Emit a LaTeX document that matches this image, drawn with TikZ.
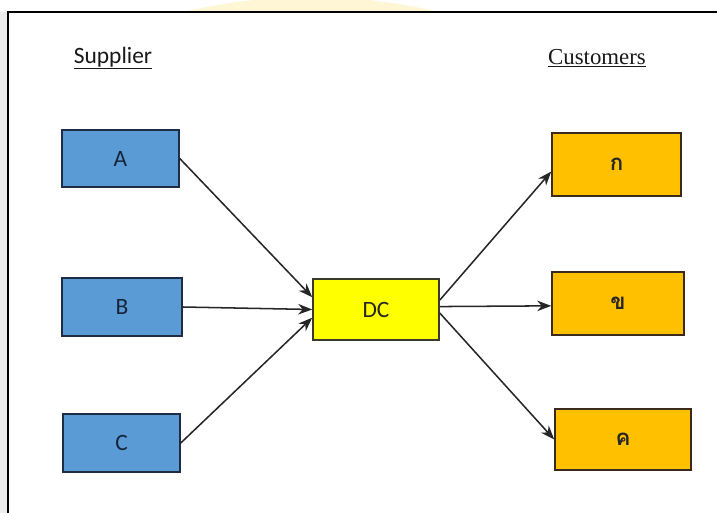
\documentclass[tikz,border=0pt]{standalone}
\usepackage{fontspec}
\usepackage{xcolor}
\usetikzlibrary{arrows.meta}
\newfontfamily\calibri{Carlito}
\newfontfamily\serifhead{Liberation Serif}
\newfontfamily\thaifont[Script=Thai]{Loma}
\definecolor{supblue}{HTML}{5B9BD5}
\definecolor{supedge}{HTML}{1E2D44}
\definecolor{suptext}{HTML}{16243A}
\definecolor{dcyellow}{HTML}{FFFF00}
\definecolor{dcedge}{HTML}{3A3A2A}
\definecolor{cusorange}{HTML}{FFC000}
\definecolor{cusedge}{HTML}{3B2A1C}
\definecolor{flowgray}{HTML}{262626}
\definecolor{wmyellow}{HTML}{FFF6D6}
\definecolor{stripgray}{HTML}{ECEDEC}
\tikzset{
  box/.style={draw,line width=1.3pt,inner sep=0pt,font=\calibri\fontsize{20}{24}\selectfont},
  % supplier / dc / customer boxes
  supbox/.style={box,fill=supblue,draw=supedge,text=suptext},
  dcbox/.style={box,fill=dcyellow,draw=dcedge,text=black!85},
  cusbox/.style={box,fill=cusorange,draw=cusedge,text=black!85,font=\thaifont\bfseries\fontsize{19}{22}\selectfont},
  % flow arrows
  flow/.style={line width=1.3pt,draw=flowgray,-{Stealth[length=12pt,width=9pt]}},
  head/.style={inner sep=0pt,text=black!90},
}

\begin{document}
\begin{tikzpicture}[x=0.03cm,y=-0.03cm]
\useasboundingbox (0,0) rectangle (717,513);

%% page background (watermark + frame)
\begin{scope}
  \clip (0,0) rectangle (717,513);
  \fill[wmyellow] (311,538) circle[radius=541];
  \fill[stripgray] (0,12) rectangle (8,513);
\end{scope}
\fill[white] (8,12) rectangle (717,513);
\draw[line width=1.6pt] (8,513) -- (8,12) -- (717,12);

%% column heads
\node[head,font=\calibri\fontsize{20}{24}\selectfont] (suphead) at (113,58) {\underline{Supplier}};
\node[head,font=\serifhead\fontsize{19.5}{24}\selectfont] (cushead) at (597,58) {\underline{Customers}};

%% suppliers
\foreach \name/\x/\y/\w/\h in {A/120.5/158.5/117/57, B/122/307/120/58, C/121.5/443/117/58}{
  \node[supbox,minimum width=\w*0.03cm,minimum height=\h*0.03cm] (\name) at (\x,\y) {\name};
}

%% distribution centre
\node[dcbox,minimum width=126*0.03cm,minimum height=61*0.03cm] (DC) at (376,309.5) {DC};

%% customers
\foreach \name/\x/\y/\w/\h/\lbl in {kokai/616.5/164.5/129/63/ก, khokhai/618/303.5/132/63/ข, khokhwai/623/439.5/136/61/ค}{
  \node[cusbox,minimum width=\w*0.03cm,minimum height=\h*0.03cm] (\name) at (\x,\y) {\lbl};
}

%% in-flows
\foreach \src/\dy in {A/10.5pt, B/0pt, C/-7pt}{
  \draw[flow] (\src.east) -- ([yshift=\dy]DC.west);
}

%% out-flows
\foreach \dst/\dy/\ey in {kokai/8pt/-6pt, khokhai/2.5pt/-2pt, khokhwai/-3pt/0pt}{
  \draw[flow] ([yshift=\dy]DC.east) -- ([yshift=\ey]\dst.west);
}
\end{tikzpicture}
\end{document}
